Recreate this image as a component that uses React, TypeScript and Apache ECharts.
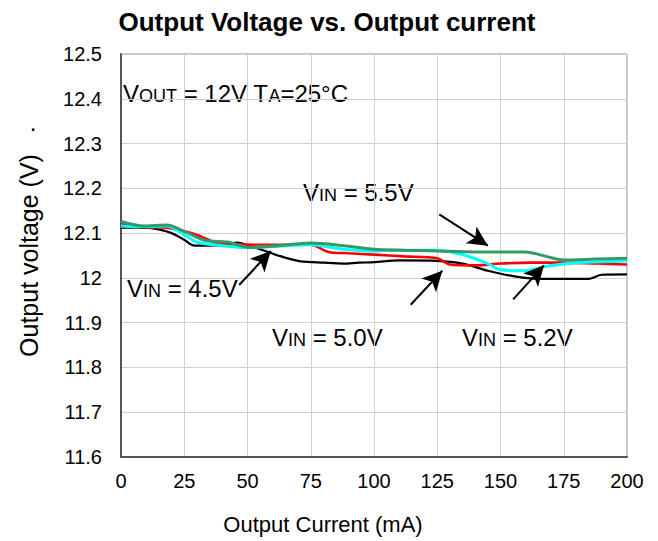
import React, { useEffect, useRef } from "react";
import * as echarts from "echarts";

const FONT = "'Liberation Sans', Arial, sans-serif";

const chartTitle = "Output Voltage vs. Output current";
const xAxisTitle = "Output Current (mA)";
const yAxisTitle = "Output voltage (V)";

const xTicks = { min: 0, max: 200, interval: 25 };
const yTicks = { min: 11.6, max: 12.5, interval: 0.1 };

// VIN = 4.5V (black)
const blackX = [0, 6, 12, 20, 25, 29, 35, 41, 46, 50, 55, 59, 65, 71, 80, 88, 94, 100, 110, 125, 135, 145, 155, 165, 175, 185, 190, 200];
const blackY = [12.112, 12.112, 12.111, 12.1, 12.085, 12.072, 12.072, 12.074, 12.079, 12.073, 12.064, 12.056, 12.045, 12.037, 12.034, 12.032, 12.034, 12.035, 12.039, 12.038, 12.032, 12.016, 12.004, 11.998, 11.998, 11.998, 12.007, 12.008];

// VIN = 5.0V (red)
const redX = [0, 10, 18, 25, 30, 35, 38, 45, 55, 65, 75, 82, 90, 100, 112, 125, 130, 140, 150, 162, 175, 188, 200];
const redY = [12.12, 12.114, 12.112, 12.104, 12.096, 12.084, 12.077, 12.075, 12.074, 12.074, 12.074, 12.058, 12.055, 12.052, 12.048, 12.044, 12.03, 12.028, 12.032, 12.034, 12.034, 12.032, 12.03];

// VIN = 5.2V (cyan)
const cyanX = [0, 10, 18, 24, 30, 40, 49, 60, 75, 88, 100, 112, 125, 135, 145, 150, 160, 168, 180, 190, 200];
const cyanY = [12.116, 12.114, 12.116, 12.1, 12.08, 12.072, 12.068, 12.07, 12.074, 12.064, 12.06, 12.062, 12.062, 12.052, 12.032, 12.018, 12.016, 12.026, 12.034, 12.036, 12.038];

// VIN = 5.5V (green)
const greenX = [0, 9, 18, 25, 33, 42, 51, 62, 75, 88, 100, 112, 125, 140, 160, 168, 175, 188, 200];
const greenY = [12.126, 12.116, 12.118, 12.104, 12.084, 12.08, 12.068, 12.072, 12.078, 12.072, 12.064, 12.062, 12.06, 12.058, 12.058, 12.048, 12.04, 12.042, 12.044];

// Arrows: [startX, startY, tipX, tipY] in data units
const arrows = [
  [46.7, 11.984, 59.2, 12.06],
  [125.8, 12.142, 145, 12.072],
  [114.5, 11.94, 127, 12.016],
  [155, 11.952, 167.2, 12.028],
];

const zip = (xs: number[], ys: number[]) => xs.map((x, i) => [x, ys[i]]);

const richStyles = {
  m: { fontSize: 24, lineHeight: 30, fontFamily: FONT, fill: "#000", verticalAlign: "bottom" },
  s: { fontSize: 18, lineHeight: 15, fontFamily: FONT, fill: "#000", verticalAlign: "bottom" },
};

const label = (text: string, x: number, y: number) => ({
  type: "text",
  x,
  y,
  silent: true,
  style: { text, rich: richStyles, verticalAlign: "middle", align: "left", fill: "#000" },
});

export default function App() {
  const ref = useRef<HTMLDivElement>(null);
  useEffect(() => {
    document.body.style.margin = "0";
    const chart = echarts.init(ref.current!, null, { renderer: "svg" });
    const mkSeries = (name: string, color: string, data: number[][], width: number, extra: any = {}) => ({
      name,
      type: "line",
      data,
      smooth: 0.3,
      showSymbol: false,
      symbol: "none",
      lineStyle: { color, width },
      itemStyle: { color },
      z: 3,
      ...extra,
    });
    chart.setOption({
      animation: false,
      backgroundColor: "#fff",
      title: {
        text: chartTitle,
        left: 322,
        top: 4,
        textAlign: "center",
        textStyle: { fontFamily: FONT, fontWeight: "bold", fontSize: 26, color: "#000" },
      },
      grid: {
        left: 121,
        top: 54,
        right: 31,
        bottom: 84,
        show: true,
        borderColor: "#8c8c8c",
        borderWidth: 1,
        backgroundColor: "transparent",
      },
      xAxis: {
        type: "value",
        min: xTicks.min,
        max: xTicks.max,
        interval: xTicks.interval,
        axisLine: { show: true, onZero: false, lineStyle: { color: "#555", width: 2 } },
        axisTick: { show: false },
        axisLabel: { fontFamily: FONT, fontSize: 20, color: "#000", margin: 14 },
        splitLine: { show: true, lineStyle: { color: "#d0d0d0", width: 1 } },
      },
      yAxis: {
        type: "value",
        min: yTicks.min,
        max: yTicks.max,
        interval: yTicks.interval,
        name: yAxisTitle,
        nameLocation: "middle",
        nameGap: 80,
        nameRotate: 90,
        nameTextStyle: { fontFamily: FONT, fontSize: 25, color: "#000" },
        axisLine: { show: true, onZero: false, lineStyle: { color: "#555", width: 2 } },
        axisTick: { show: false },
        axisLabel: {
          fontFamily: FONT,
          fontSize: 20,
          color: "#000",
          margin: 19,
          formatter: (v: number) => String(Number(v.toFixed(1))),
        },
        splitLine: { show: true, lineStyle: { color: "#d0d0d0", width: 1 } },
      },
      series: [
        mkSeries("VIN = 4.5V", "#000000", zip(blackX, blackY), 2.2, {
          markLine: {
            silent: true,
            symbol: ["none", "arrow"],
            symbolSize: [15, 20],
            label: { show: false },
            lineStyle: { color: "#000", width: 2, type: "solid" },
            data: arrows.map((a) => [{ coord: [a[0], a[1]] }, { coord: [a[2], a[3]] }]),
          },
        }),
        mkSeries("VIN = 5.0V", "#ff0000", zip(redX, redY), 2.6),
        mkSeries("VIN = 5.2V", "#00ffff", zip(cyanX, cyanY), 3),
        mkSeries("VIN = 5.5V", "#339966", zip(greenX, greenY), 3),
      ],
      graphic: [
        label("{m|V}{s|OUT}{m| = 12V T}{s|A}{m|=25°C}", 123, 90),
        label("{m|V}{s|IN}{m| = 5.5V}", 303, 189),
        label("{m|V}{s|IN}{m| = 4.5V}", 127, 285),
        label("{m|V}{s|IN}{m| = 5.0V}", 272, 334),
        label("{m|V}{s|IN}{m| = 5.2V}", 462, 334),
        {
          type: "text",
          x: 323,
          y: 524,
          silent: true,
          style: {
            text: xAxisTitle,
            fontSize: 22,
            fontFamily: FONT,
            fill: "#000",
            align: "center",
            verticalAlign: "middle",
          },
        },
        {
          type: "text",
          x: 33,
          y: 122,
          silent: true,
          style: { text: ".", fontSize: 24, fontFamily: FONT, fill: "#000", align: "center", verticalAlign: "middle" },
        },
      ],
    });
    return () => chart.dispose();
  }, []);
  return <div ref={ref} style={{ width: 658, height: 541, position: "absolute", left: 0, top: 0 }} />;
}
